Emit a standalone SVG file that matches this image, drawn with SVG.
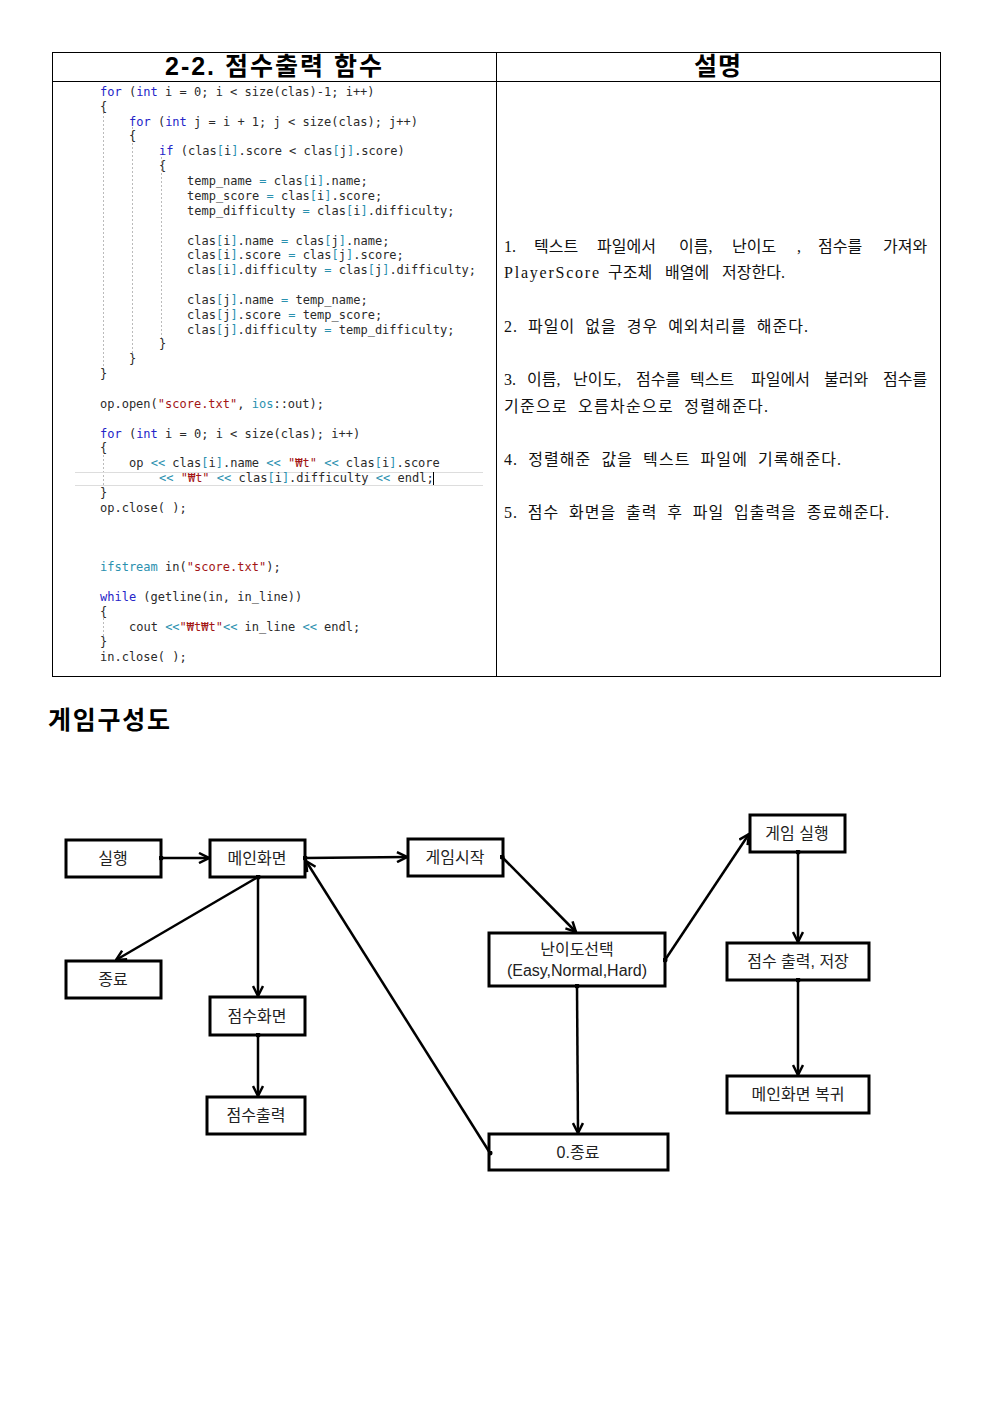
<svg xmlns="http://www.w3.org/2000/svg" width="992" height="1403" viewBox="0 0 992 1403">
<style>
.code{font-family:"DejaVu Sans Mono","Liberation Mono",monospace;font-size:12px;fill:#2a2a2a;white-space:pre}
.kw{fill:#2424c8}
.br{fill:#2b91af}
.st{fill:#a31515}
.hd{font-family:"Liberation Sans","Noto Sans CJK KR",sans-serif;font-size:25px;font-weight:bold;fill:#000}
.desc{font-family:"Liberation Serif","Noto Sans CJK KR",serif;font-size:16px;fill:#111;word-spacing:5px}
.lbl{font-family:"Liberation Sans","Noto Sans CJK KR",sans-serif;font-size:16px;fill:#222;text-anchor:middle}
.box{fill:#fff;stroke:#000;stroke-width:3}
.guide{stroke:#bbb;stroke-width:1;stroke-dasharray:2 2}
.con{stroke:#000;stroke-width:2.5;fill:none;marker-start:url(#dot);marker-end:url(#arr)}
</style>
<defs>
<marker id="arr" viewBox="0 0 12 12" refX="11" refY="6" markerWidth="12" markerHeight="12" markerUnits="userSpaceOnUse" orient="auto"><path d="M1,1 L11,6 L1,11" fill="none" stroke="#000" stroke-width="2.5"/></marker>
<marker id="dot" viewBox="0 0 6 6" refX="3" refY="3" markerWidth="5" markerHeight="5" markerUnits="userSpaceOnUse"><circle cx="3" cy="3" r="3" fill="#000"/></marker>
</defs>
<rect width="992" height="1403" fill="#fff"/>

<g id="table">
<rect x="52.5" y="52.5" width="888" height="624" fill="none" stroke="#000" stroke-width="1"/>
<line x1="52" y1="81.5" x2="941" y2="81.5" stroke="#000" stroke-width="1"/>
<line x1="496.5" y1="52" x2="496.5" y2="677" stroke="#000" stroke-width="1"/>
<text class="hd" x="165" y="75" textLength="217" lengthAdjust="spacing">2-2. 점수출력 함수</text>
<text class="hd" x="694" y="75" textLength="47" lengthAdjust="spacing">설명</text>
</g>

<g id="code">
<line class="guide" x1="103.5" y1="112" x2="103.5" y2="370"/>
<line class="guide" x1="132.5" y1="127" x2="132.5" y2="355"/>
<line class="guide" x1="161.5" y1="157" x2="161.5" y2="340"/>
<line class="guide" x1="103.5" y1="455" x2="103.5" y2="488"/>
<line class="guide" x1="103.5" y1="618" x2="103.5" y2="637"/>
<line x1="75" y1="472.5" x2="483" y2="472.5" stroke="#ddd" stroke-width="1"/>
<line x1="75" y1="485.5" x2="483" y2="485.5" stroke="#ddd" stroke-width="1"/>
<line x1="433.5" y1="472" x2="433.5" y2="485" stroke="#000" stroke-width="1"/>
<text class="code" x="100" y="96"><tspan class="kw">for</tspan> (<tspan class="kw">int</tspan> i = 0; i &lt; size(clas)-1; i++)</text>
<text class="code" x="100" y="111">{</text>
<text class="code" x="129" y="126"><tspan class="kw">for</tspan> (<tspan class="kw">int</tspan> j = i + 1; j &lt; size(clas); j++)</text>
<text class="code" x="129" y="140">{</text>
<text class="code" x="159" y="155"><tspan class="kw">if</tspan> (clas<tspan class="br">[</tspan>i<tspan class="br">]</tspan>.score &lt; clas<tspan class="br">[</tspan>j<tspan class="br">]</tspan>.score)</text>
<text class="code" x="159" y="170">{</text>
<text class="code" x="187" y="185">temp_name <tspan class="br">=</tspan> clas<tspan class="br">[</tspan>i<tspan class="br">]</tspan>.name;</text>
<text class="code" x="187" y="200">temp_score <tspan class="br">=</tspan> clas<tspan class="br">[</tspan>i<tspan class="br">]</tspan>.score;</text>
<text class="code" x="187" y="215">temp_difficulty <tspan class="br">=</tspan> clas<tspan class="br">[</tspan>i<tspan class="br">]</tspan>.difficulty;</text>
<text class="code" x="187" y="245">clas<tspan class="br">[</tspan>i<tspan class="br">]</tspan>.name <tspan class="br">=</tspan> clas<tspan class="br">[</tspan>j<tspan class="br">]</tspan>.name;</text>
<text class="code" x="187" y="259">clas<tspan class="br">[</tspan>i<tspan class="br">]</tspan>.score <tspan class="br">=</tspan> clas<tspan class="br">[</tspan>j<tspan class="br">]</tspan>.score;</text>
<text class="code" x="187" y="274">clas<tspan class="br">[</tspan>i<tspan class="br">]</tspan>.difficulty <tspan class="br">=</tspan> clas<tspan class="br">[</tspan>j<tspan class="br">]</tspan>.difficulty;</text>
<text class="code" x="187" y="304">clas<tspan class="br">[</tspan>j<tspan class="br">]</tspan>.name <tspan class="br">=</tspan> temp_name;</text>
<text class="code" x="187" y="319">clas<tspan class="br">[</tspan>j<tspan class="br">]</tspan>.score <tspan class="br">=</tspan> temp_score;</text>
<text class="code" x="187" y="334">clas<tspan class="br">[</tspan>j<tspan class="br">]</tspan>.difficulty <tspan class="br">=</tspan> temp_difficulty;</text>
<text class="code" x="159" y="348">}</text>
<text class="code" x="129" y="363">}</text>
<text class="code" x="100" y="378">}</text>
<text class="code" x="100" y="408">op.open(<tspan class="st">"score.txt"</tspan>, <tspan class="br">ios</tspan>::out);</text>
<text class="code" x="100" y="438"><tspan class="kw">for</tspan> (<tspan class="kw">int</tspan> i = 0; i &lt; size(clas); i++)</text>
<text class="code" x="100" y="452">{</text>
<text class="code" x="129" y="467">op <tspan class="br">&lt;&lt;</tspan> clas<tspan class="br">[</tspan>i<tspan class="br">]</tspan>.name <tspan class="br">&lt;&lt;</tspan> <tspan class="st">"₩t"</tspan> <tspan class="br">&lt;&lt;</tspan> clas<tspan class="br">[</tspan>i<tspan class="br">]</tspan>.score</text>
<text class="code" x="159" y="482"><tspan class="br">&lt;&lt;</tspan> <tspan class="st">"₩t"</tspan> <tspan class="br">&lt;&lt;</tspan> clas<tspan class="br">[</tspan>i<tspan class="br">]</tspan>.difficulty <tspan class="br">&lt;&lt;</tspan> endl;</text>
<text class="code" x="100" y="497">}</text>
<text class="code" x="100" y="512">op.close( );</text>
<text class="code" x="100" y="571"><tspan class="br">ifstream</tspan> in(<tspan class="st">"score.txt"</tspan>);</text>
<text class="code" x="100" y="601"><tspan class="kw">while</tspan> (getline(in, in_line))</text>
<text class="code" x="100" y="616">{</text>
<text class="code" x="129" y="631">cout <tspan class="br">&lt;&lt;</tspan><tspan class="st">"₩t₩t"</tspan><tspan class="br">&lt;&lt;</tspan> in_line <tspan class="br">&lt;&lt;</tspan> endl;</text>
<text class="code" x="100" y="646">}</text>
<text class="code" x="100" y="661">in.close( );</text>
</g>

<g id="description">
<text class="desc" y="252"><tspan x="504">1.</tspan><tspan x="534">텍스트</tspan><tspan x="597">파일에서</tspan><tspan x="679">이름,</tspan><tspan x="732">난이도</tspan><tspan x="797">,</tspan><tspan x="818">점수를</tspan><tspan x="883">가져와</tspan></text>
<text class="desc" y="278"><tspan x="504" textLength="95" lengthAdjust="spacing">PlayerScore</tspan><tspan x="608">구조체</tspan><tspan x="665">배열에</tspan><tspan x="722">저장한다.</tspan></text>
<text class="desc" x="504" y="332" textLength="304" lengthAdjust="spacing">2. 파일이 없을 경우 예외처리를 해준다.</text>
<text class="desc" y="385"><tspan x="504">3.</tspan><tspan x="527">이름,</tspan><tspan x="573">난이도,</tspan><tspan x="636">점수를</tspan><tspan x="690">텍스트</tspan><tspan x="751">파일에서</tspan><tspan x="824">불러와</tspan><tspan x="883">점수를</tspan></text>
<text class="desc" x="504" y="412" textLength="264" lengthAdjust="spacing">기준으로 오름차순으로 정렬해준다.</text>
<text class="desc" x="504" y="465" textLength="337" lengthAdjust="spacing">4. 정렬해준 값을 텍스트 파일에 기록해준다.</text>
<text class="desc" x="504" y="518" textLength="385" lengthAdjust="spacing">5. 점수 화면을 출력 후 파일 입출력을 종료해준다.</text>
</g>

<text class="hd" x="48" y="729" textLength="122" lengthAdjust="spacing">게임구성도</text>

<g id="n-run"><rect class="box" x="66" y="840" width="95" height="37"/><text class="lbl" x="113" y="864">실행</text></g>
<g id="n-main"><rect class="box" x="210" y="840" width="95" height="37"/><text class="lbl" x="257" y="864">메인화면</text></g>
<g id="n-start"><rect class="box" x="408" y="839" width="95" height="37"/><text class="lbl" x="455" y="863">게임시작</text></g>
<g id="n-exit"><rect class="box" x="66" y="961" width="95" height="37"/><text class="lbl" x="113" y="985">종료</text></g>
<g id="n-scorescreen"><rect class="box" x="210" y="997" width="95" height="38"/><text class="lbl" x="257" y="1022">점수화면</text></g>
<g id="n-scoreout"><rect class="box" x="207" y="1097" width="98" height="37"/><text class="lbl" x="256" y="1121">점수출력</text></g>
<g id="n-diff"><rect class="box" x="489" y="933" width="176" height="53"/><text class="lbl" x="577" y="955">난이도선택</text><text class="lbl" x="577" y="976">(Easy,Normal,Hard)</text></g>
<g id="n-exit0"><rect class="box" x="489" y="1134" width="179" height="36"/><text class="lbl" x="578" y="1158">0.종료</text></g>
<g id="n-play"><rect class="box" x="750" y="815" width="95" height="37"/><text class="lbl" x="797" y="839">게임 실행</text></g>
<g id="n-save"><rect class="box" x="727" y="943" width="142" height="37"/><text class="lbl" x="798" y="967">점수 출력, 저장</text></g>
<g id="n-return"><rect class="box" x="727" y="1076" width="142" height="37"/><text class="lbl" x="798" y="1100">메인화면 복귀</text></g>

<g id="connectors">
<line class="con" x1="161" y1="858" x2="209" y2="858"/>
<line class="con" x1="305" y1="858" x2="407" y2="857"/>
<line class="con" x1="258" y1="877" x2="116" y2="960"/>
<line class="con" x1="258" y1="877" x2="258" y2="996"/>
<line class="con" x1="258" y1="1035" x2="258" y2="1096"/>
<line class="con" x1="502" y1="857" x2="576" y2="932"/>
<line class="con" x1="665" y1="960" x2="749" y2="834"/>
<line class="con" x1="577" y1="986" x2="578" y2="1133"/>
<line class="con" x1="490" y1="1153" x2="306" y2="861"/>
<line class="con" x1="798" y1="852" x2="798" y2="942"/>
<line class="con" x1="798" y1="980" x2="798" y2="1075"/>
</g>
</svg>
